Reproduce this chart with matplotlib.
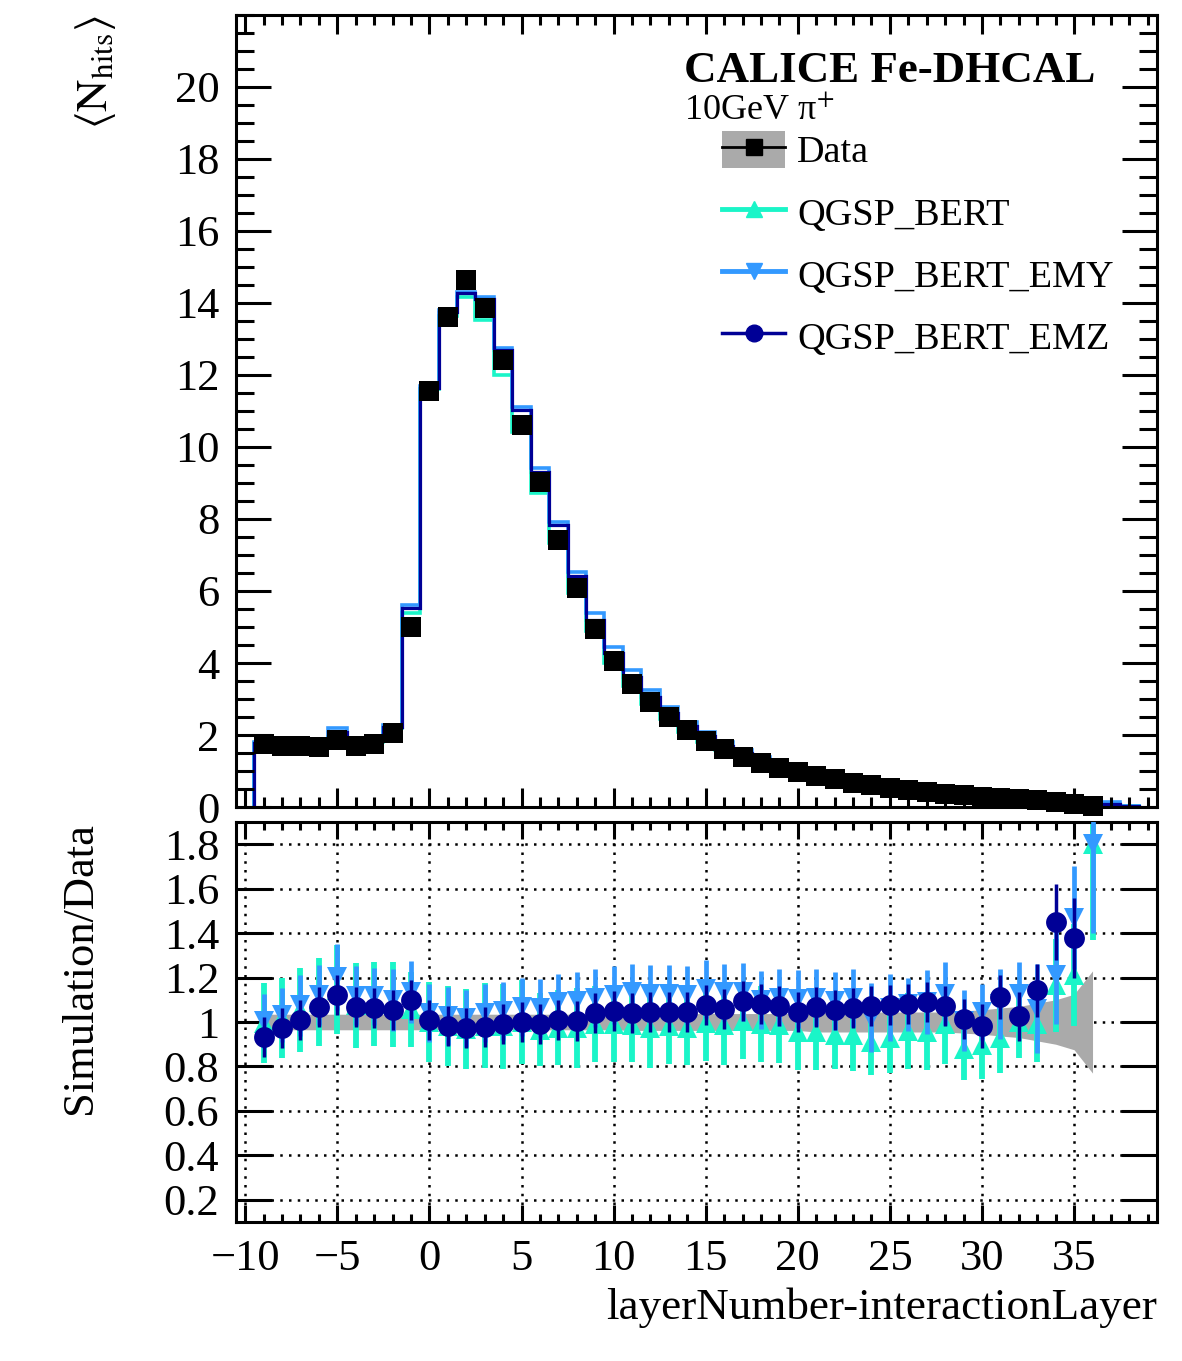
import numpy as np
import matplotlib
matplotlib.use('agg')
import matplotlib.pyplot as plt  # noqa: E402
from matplotlib.lines import Line2D  # noqa: E402
from matplotlib.patches import Patch  # noqa: E402
from matplotlib.ticker import MultipleLocator  # noqa: E402

plt.rcParams['font.family'] = ['Liberation Serif', 'DejaVu Serif']
plt.rcParams['mathtext.fontset'] = 'stix'

# layers with data / ratio points
layers = np.arange(-9, 37)
# simulation histogram bin edges (bins -9 ... 38)
mc_edges = np.arange(-9.5, 39.0, 1.0)

data = [1.74, 1.70, 1.69, 1.66, 1.86, 1.70, 1.74, 2.05, 5.00,
        11.55, 13.60, 14.65, 13.87, 12.42, 10.60, 9.02, 7.42, 6.07, 4.95,
        4.05, 3.41, 2.91, 2.49, 2.13, 1.84, 1.60, 1.40, 1.23, 1.08,
        0.97, 0.86, 0.77, 0.68, 0.60, 0.54, 0.47, 0.41, 0.36, 0.32,
        0.29, 0.26, 0.23, 0.19, 0.14, 0.08, 0.03]

mc_bert = [1.78, 1.72, 1.72, 1.72, 1.95, 1.76, 1.80, 2.20, 5.38,
           11.60, 13.65, 14.18, 13.53, 12.00, 10.43, 8.71, 7.32, 5.95, 4.88,
           4.00, 3.36, 2.85, 2.44, 2.08, 1.80, 1.57, 1.38, 1.21, 1.06,
           0.93, 0.82, 0.72, 0.63, 0.55, 0.50, 0.45, 0.40, 0.36, 0.30,
           0.27, 0.24, 0.22, 0.18, 0.16, 0.10, 0.05, 0.07, 0.02]
mc_emy = [1.80, 1.78, 1.80, 1.85, 2.20, 1.88, 1.93, 2.27, 5.60,
          11.70, 13.80, 14.30, 14.18, 12.74, 11.12, 9.41, 7.93, 6.54, 5.38,
          4.45, 3.80, 3.25, 2.78, 2.37, 2.08, 1.80, 1.58, 1.38, 1.20,
          1.07, 0.95, 0.84, 0.75, 0.63, 0.57, 0.51, 0.45, 0.40, 0.33,
          0.31, 0.28, 0.26, 0.21, 0.17, 0.12, 0.06, 0.15, 0.03]
mc_emz = [1.79, 1.76, 1.76, 1.79, 2.08, 1.82, 1.86, 2.22, 5.52,
          11.65, 13.75, 14.27, 14.10, 12.69, 11.03, 9.31, 7.83, 6.42, 5.20,
          4.28, 3.60, 3.06, 2.62, 2.24, 1.96, 1.70, 1.50, 1.32, 1.15,
          1.03, 0.91, 0.81, 0.72, 0.64, 0.58, 0.51, 0.45, 0.39, 0.32,
          0.28, 0.28, 0.24, 0.22, 0.20, 0.11, 0.04, 0.09, 0.02]

ratio_bert = [0.997, 1.019, 1.054, 1.090, 1.146, 1.075, 1.082, 1.079, 1.057,
              1.000, 0.984, 0.970, 0.984, 0.980, 1.000, 0.965, 0.975, 0.975, 0.990,
              0.990, 0.985, 0.975, 0.980, 0.975, 0.995, 0.985, 1.005, 0.990, 0.985,
              0.955, 0.955, 0.940, 0.940, 0.910, 0.930, 0.960, 0.955, 0.990, 0.880,
              0.895, 0.930, 1.000, 0.990, 1.165, 1.210, 1.800]
err_bert = [0.18, 0.18, 0.19, 0.20, 0.20, 0.19, 0.19, 0.19, 0.17,
            0.18, 0.18, 0.18, 0.19, 0.19, 0.19, 0.165, 0.17, 0.18, 0.17,
            0.17, 0.165, 0.18, 0.17, 0.17, 0.17, 0.18, 0.17, 0.17, 0.17,
            0.17, 0.17, 0.15, 0.16, 0.15, 0.16, 0.17, 0.17, 0.18, 0.14,
            0.15, 0.16, 0.16, 0.17, 0.21, 0.23, 0.43]
ratio_emy = [1.004, 1.031, 1.076, 1.122, 1.204, 1.118, 1.115, 1.100, 1.134,
             1.039, 1.028, 1.016, 1.039, 1.048, 1.069, 1.063, 1.088, 1.093, 1.107,
             1.121, 1.133, 1.125, 1.125, 1.121, 1.148, 1.133, 1.136, 1.100, 1.110,
             1.103, 1.110, 1.096, 1.107, 1.020, 1.065, 1.080, 1.090, 1.128, 1.006,
             1.046, 1.080, 1.128, 1.060, 1.213, 1.470, 1.800]
err_emy = [0.12, 0.12, 0.137, 0.136, 0.148, 0.133, 0.13, 0.14, 0.139,
           0.13, 0.13, 0.13, 0.13, 0.13, 0.13, 0.13, 0.13, 0.13, 0.13,
           0.13, 0.13, 0.13, 0.13, 0.13, 0.13, 0.13, 0.13, 0.13, 0.13,
           0.13, 0.13, 0.13, 0.13, 0.154, 0.15, 0.12, 0.146, 0.14, 0.136,
           0.127, 0.158, 0.142, 0.20, 0.22, 0.23, 0.40]
ratio_emz = [0.934, 0.975, 1.008, 1.068, 1.120, 1.068, 1.062, 1.053, 1.100,
             1.008, 0.982, 0.973, 0.979, 0.990, 1.000, 0.993, 1.007, 1.003, 1.040,
             1.048, 1.040, 1.043, 1.043, 1.046, 1.075, 1.058, 1.096, 1.079, 1.072,
             1.045, 1.066, 1.056, 1.061, 1.072, 1.076, 1.082, 1.090, 1.072, 1.012,
             0.982, 1.112, 1.025, 1.143, 1.450, 1.380, np.nan]
err_emz = [0.09, 0.09, 0.09, 0.09, 0.09, 0.09, 0.09, 0.09, 0.09,
           0.09, 0.09, 0.09, 0.09, 0.09, 0.09, 0.09, 0.09, 0.09, 0.09,
           0.09, 0.09, 0.09, 0.09, 0.09, 0.09, 0.09, 0.09, 0.09, 0.09,
           0.09, 0.09, 0.09, 0.09, 0.09, 0.09, 0.09, 0.09, 0.09, 0.09,
           0.10, 0.10, 0.11, 0.12, 0.17, 0.18, np.nan]
# relative data uncertainty (grey band)
data_band = [0.035, 0.035, 0.035, 0.035, 0.035, 0.035, 0.035, 0.035, 0.035,
             0.035, 0.035, 0.035, 0.035, 0.035, 0.035, 0.035, 0.035, 0.035, 0.035,
             0.035, 0.038, 0.038, 0.038, 0.038, 0.038, 0.038, 0.038, 0.038, 0.038,
             0.038, 0.045, 0.045, 0.045, 0.045, 0.045, 0.045, 0.045, 0.045, 0.05,
             0.055, 0.063, 0.07, 0.085, 0.10, 0.125, 0.23]

c_bert = '#1af5c8'
c_emy = '#3399ff'
c_emz = '#000096'
c_band = '#aaaaaa'

W, H = 1182, 1361
fig = plt.figure(figsize=(W / 100, H / 100), dpi=100)
ax = fig.add_axes([236 / W, 1 - 807 / H, 921 / W, 792 / H])
axr = fig.add_axes([236 / W, 1 - 1222 / H, 921 / W, 400 / H])

# upper pad
ax.stairs(mc_bert, mc_edges, baseline=0, color=c_bert, lw=2.6)
ax.stairs(mc_emy, mc_edges, baseline=0, color=c_emy, lw=2.6)
ax.stairs(mc_emz, mc_edges, baseline=0, color=c_emz, lw=2.3)
ax.plot(layers, data, 's', color='black', ms=14.5, mew=0, clip_on=False, zorder=5)

ax.set_xlim(-10.5, 39.5)
ax.set_ylim(0, 22)
ax.xaxis.set_major_locator(MultipleLocator(5))
ax.xaxis.set_minor_locator(MultipleLocator(1))
ax.set_yticks([0, 2, 4, 6, 8, 10, 12, 14, 16, 18, 20])
ax.yaxis.set_minor_locator(MultipleLocator(0.5))
ax.tick_params(labelbottom=False)
ax.tick_params(axis='y', which='major', length=25)
ax.tick_params(axis='y', which='minor', length=13)
ax.tick_params(axis='x', which='major', length=14)
ax.tick_params(axis='x', which='minor', length=7)
ax.set_ylabel(r'$\langle\mathrm{N}_{\mathrm{hits}}\rangle$', fontsize=32, loc='top')
ax.yaxis.set_label_coords(-0.128, 1.0)

# lower pad
axr.fill_between(layers, 1 - np.array(data_band), 1 + np.array(data_band),
                 color=c_band, lw=0, zorder=1)
axr.errorbar(layers, ratio_bert, yerr=err_bert, fmt='^', color=c_bert, ms=15,
             mew=0, elinewidth=4.2, capsize=0, zorder=2)
axr.errorbar(layers, ratio_emy, yerr=err_emy, fmt='v', color=c_emy, ms=15,
             mew=0, elinewidth=3.4, capsize=0, zorder=3)
axr.errorbar(layers, ratio_emz, yerr=err_emz, fmt='o', color=c_emz, ms=15,
             mew=0, elinewidth=2.5, capsize=0, zorder=4)
axr.set_xlim(-10.5, 39.5)
axr.set_ylim(0.1, 1.9)
axr.xaxis.set_major_locator(MultipleLocator(5))
axr.xaxis.set_minor_locator(MultipleLocator(1))
axr.set_yticks([0.2, 0.4, 0.6, 0.8, 1.0, 1.2, 1.4, 1.6, 1.8])
axr.set_yticklabels(['0.2', '0.4', '0.6', '0.8', '1', '1.2', '1.4', '1.6', '1.8'])
axr.grid(True, which='major', color='black', ls=(0, (1, 2.5)), lw=1.8)
axr.set_axisbelow(True)
axr.tick_params(axis='y', which='major', length=26)
axr.tick_params(axis='x', which='major', length=12)
axr.tick_params(axis='x', which='minor', length=6)
axr.set_ylabel('Simulation/Data', fontsize=32, loc='top')
axr.yaxis.set_label_coords(-0.148, 1.0)
axr.set_xlabel('layerNumber-interactionLayer', fontsize=32.5, loc='right', labelpad=6)

for a in (ax, axr):
    a.tick_params(which='both', direction='in', top=True, right=True,
                  width=2.2, labelsize=32, pad=12)
    for s in a.spines.values():
        s.set_linewidth(2.2)

# labels and legend
fig.text(684 / W, 1 - 82 / H, 'CALICE Fe-DHCAL', fontsize=32.4, fontweight='bold',
         va='baseline')
fig.text(684 / W, 1 - 120 / H, '10GeV π$^{+}$', fontsize=26, va='baseline')

handles = [
    (Patch(facecolor=c_band, edgecolor='none'),
     Line2D([], [], color='black', lw=2, marker='s', ms=12)),
    Line2D([], [], color=c_bert, lw=3.5, marker='^', ms=12),
    Line2D([], [], color=c_emy, lw=3.5, marker='v', ms=12),
    Line2D([], [], color=c_emz, lw=2.5, marker='o', ms=12),
]
labels = ['Data', 'QGSP_BERT', 'QGSP_BERT_EMY', 'QGSP_BERT_EMZ']
ax.legend(handles, labels, loc='upper left', bbox_to_anchor=(722 / W, 1 - 131 / H),
          bbox_transform=fig.transFigure, frameon=False, fontsize=27.5,
          borderpad=0, borderaxespad=0, handlelength=1.65, handleheight=1.1,
          handletextpad=0.32, labelspacing=0.6)

fig.savefig('out.png', dpi=100)
